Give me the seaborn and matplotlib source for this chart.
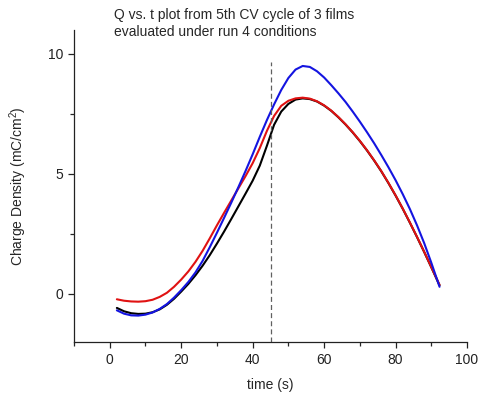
import numpy as np
import pandas as pd
import matplotlib
matplotlib.use("Agg")
import matplotlib.pyplot as plt
from matplotlib.ticker import MultipleLocator
import seaborn as sns

# ---- data ----
t = [2, 4, 6, 8, 10, 12, 14, 16, 18, 20, 22, 24, 26, 28, 30, 32, 34, 36, 38, 40,
     42, 44, 46, 48, 50, 52, 54, 56, 58, 60, 62, 64, 66, 68, 70, 72, 74, 76, 78, 80,
     82, 84, 86, 88, 90, 92.3]
film_black = [-0.58, -0.72, -0.80, -0.83, -0.82, -0.76, -0.64, -0.45, -0.20, 0.10,
              0.42, 0.78, 1.18, 1.62, 2.10, 2.60, 3.12, 3.65, 4.18, 4.72,
              5.35, 6.18, 7.05, 7.60, 7.92, 8.10, 8.15, 8.12, 8.02, 7.85,
              7.63, 7.36, 7.06, 6.73, 6.37, 5.98, 5.56, 5.11, 4.62, 4.10,
              3.55, 2.97, 2.37, 1.75, 1.11, 0.36]
film_red = [-0.22, -0.28, -0.31, -0.32, -0.30, -0.24, -0.12, 0.05, 0.30, 0.60,
            0.94, 1.34, 1.80, 2.32, 2.86, 3.38, 3.89, 4.40, 4.91, 5.45,
            6.08, 6.80, 7.42, 7.84, 8.05, 8.15, 8.18, 8.14, 8.03, 7.86,
            7.64, 7.37, 7.07, 6.74, 6.38, 5.99, 5.57, 5.12, 4.63, 4.11,
            3.56, 2.98, 2.38, 1.76, 1.12, 0.38]
film_blue = [-0.68, -0.82, -0.89, -0.90, -0.86, -0.77, -0.62, -0.42, -0.15, 0.16,
             0.50, 0.90, 1.38, 1.95, 2.55, 3.17, 3.80, 4.45, 5.12, 5.82,
             6.55, 7.25, 7.90, 8.50, 9.00, 9.35, 9.50, 9.46, 9.28, 9.02,
             8.70, 8.36, 8.00, 7.60, 7.18, 6.74, 6.28, 5.79, 5.28, 4.74,
             4.16, 3.54, 2.86, 2.12, 1.30, 0.30]
series_names = ["film 1", "film 2", "film 3"]
series_colors = ["#000000", "#e01212", "#1414e0"]
marker_time = 45

title_lines = ["Q vs. t plot from 5th CV cycle of 3 films",
               "evaluated under run 4 conditions"]
xlabel = "time (s)"
ylabel = "Charge Density (mC/cm$^2$)"

df = pd.concat([
    pd.DataFrame({"t": t, "Q": film_black, "film": series_names[0]}),
    pd.DataFrame({"t": t, "Q": film_red, "film": series_names[1]}),
    pd.DataFrame({"t": t, "Q": film_blue, "film": series_names[2]}),
], ignore_index=True)

sns.set_theme(style="ticks")
plt.rcParams["font.family"] = ["Liberation Sans", "DejaVu Sans"]
plt.rcParams["mathtext.fontset"] = "custom"
plt.rcParams["mathtext.rm"] = "Liberation Sans"
plt.rcParams["mathtext.it"] = "Liberation Sans"

fig = plt.figure(figsize=(4.82, 3.98), dpi=100)
ax = fig.add_axes([0.1535, 0.1407, 0.8155, 0.784])

sns.lineplot(data=df, x="t", y="Q", hue="film", palette=series_colors,
             estimator=None, sort=False, legend=False, linewidth=1.5, ax=ax)
for ln in ax.get_lines():
    ln.set_solid_joinstyle("round")
    ln.set_solid_capstyle("round")

ax.axvline(marker_time, ymin=0, ymax=0.898, color="#606060", linestyle=(0, (4, 2.5)),
           linewidth=0.9)

ax.set_xlim(-10, 100)
ax.set_ylim(-2, 11)
ax.xaxis.set_major_locator(MultipleLocator(20))
ax.xaxis.set_minor_locator(MultipleLocator(10))
ax.yaxis.set_major_locator(MultipleLocator(5))
ax.yaxis.set_minor_locator(MultipleLocator(2.5))
ax.tick_params(which="major", direction="out", length=4.5, width=0.9, labelsize=10,
               colors="#222222")
ax.tick_params(which="minor", direction="out", length=3, width=0.9)
for s in ["top", "right"]:
    ax.spines[s].set_visible(False)
for s in ["left", "bottom"]:
    ax.spines[s].set_linewidth(0.9)
    ax.spines[s].set_color("#222222")

ax.set_xlabel(xlabel, fontsize=10, labelpad=8)
ax.set_ylabel(ylabel, fontsize=10, labelpad=13)

fig.text(114 / 482, 1 - 8 / 398, "\n".join(title_lines), ha="left", va="top",
         fontsize=10, linespacing=1.25)

fig.savefig("out.png", dpi=100, facecolor="white")
